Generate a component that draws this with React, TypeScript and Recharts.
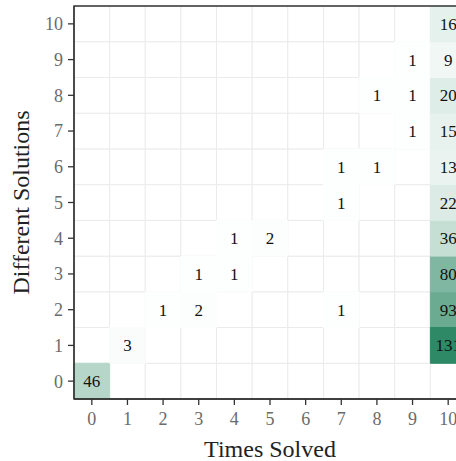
import { ReferenceArea, Scatter, ScatterChart, XAxis, YAxis } from "recharts";

// one entry per non-empty tile
const timesSolved = [0, 1, 2, 3, 7, 10, 3, 4, 10, 4, 5, 10, 7, 10, 7, 8, 10, 9, 10, 8, 9, 10, 9, 10, 10, 10];
const diffSolutions = [0, 1, 2, 2, 2, 2, 3, 3, 3, 4, 4, 4, 5, 5, 6, 6, 6, 7, 7, 8, 8, 8, 9, 9, 10, 1];
const counts = [46, 3, 1, 2, 1, 93, 1, 1, 80, 1, 2, 36, 1, 22, 1, 1, 13, 1, 15, 1, 1, 20, 1, 9, 16, 131];

const ticks = [0, 1, 2, 3, 4, 5, 6, 7, 8, 9, 10];

const font = "'Liberation Serif', 'DejaVu Serif', serif";
const maxCount = Math.max(...counts);

const tileColor = (v: number) => {
  const t = v / maxCount;
  const hi = [46, 137, 102];
  const c = hi.map((h) => Math.round(255 + (h - 255) * t));
  return `rgb(${c[0]},${c[1]},${c[2]})`;
};

const cells = counts.map((v, i) => ({ x: timesSolved[i], y: diffSolutions[i], v }));

const empty: { x: number; y: number }[] = [];
ticks.forEach((x) =>
  ticks.forEach((y) => {
    if (!cells.find((c) => c.x === x && c.y === y)) empty.push({ x, y });
  })
);

export default function App() {
  return (
    <div
      style={{
        position: "fixed",
        left: 0,
        top: 0,
        width: 456,
        height: 461,
        overflow: "hidden",
        background: "#fff",
      }}
    >
      <ScatterChart width={480} height={461} margin={{ top: 6, right: 14, left: 0, bottom: 0 }}>
        <XAxis
          type="number"
          dataKey="x"
          domain={[-0.5, 10.5]}
          ticks={ticks}
          interval={0}
          allowDataOverflow
          height={62}
          tickSize={6}
          tickMargin={7}
          axisLine={{ stroke: "#333", strokeWidth: 1.3 }}
          tickLine={{ stroke: "#333", strokeWidth: 1.3 }}
          tick={{ fill: "#6b6b6b", fontSize: 18, fontFamily: font }}
          label={{
            value: "Times Solved",
            position: "insideBottom",
            offset: 4,
            fill: "#222",
            fontSize: 24,
            fontFamily: font,
          }}
        />
        <YAxis
          type="number"
          dataKey="y"
          domain={[-0.5, 10.5]}
          ticks={ticks}
          interval={0}
          allowDataOverflow
          width={74}
          tickSize={6}
          tickMargin={5}
          axisLine={{ stroke: "#333", strokeWidth: 1.3 }}
          tickLine={{ stroke: "#333", strokeWidth: 1.3 }}
          tick={{ fill: "#6b6b6b", fontSize: 18, fontFamily: font }}
          label={{
            value: "Different Solutions",
            angle: -90,
            position: "insideLeft",
            offset: 20,
            style: { textAnchor: "middle" },
            fill: "#222",
            fontSize: 24,
            fontFamily: font,
          }}
        />
        {empty.map((c, i) => (
          <ReferenceArea
            key={"e" + i}
            x1={c.x - 0.5}
            x2={c.x + 0.5}
            y1={c.y - 0.5}
            y2={c.y + 0.5}
            fill="#fff"
            fillOpacity={1}
            stroke="#ebebeb"
            strokeWidth={1}
          />
        ))}
        {cells.map((c, i) => (
          <ReferenceArea
            key={"c" + i}
            x1={c.x - 0.5}
            x2={c.x + 0.5}
            y1={c.y - 0.5}
            y2={c.y + 0.5}
            fill={tileColor(c.v)}
            fillOpacity={1}
            stroke={tileColor(c.v)}
            strokeWidth={1}
            label={{
              value: String(c.v),
              position: "center",
              fill: "#111",
              fontSize: 17,
              fontFamily: font,
            }}
          />
        ))}
        <ReferenceArea
          x1={-0.5}
          x2={10.5}
          y1={-0.5}
          y2={10.5}
          fill="none"
          stroke="#333"
          strokeWidth={1.3}
        />
        <Scatter data={cells} fill="none" isAnimationActive={false} shape={() => <g />} />
      </ScatterChart>
    </div>
  );
}
